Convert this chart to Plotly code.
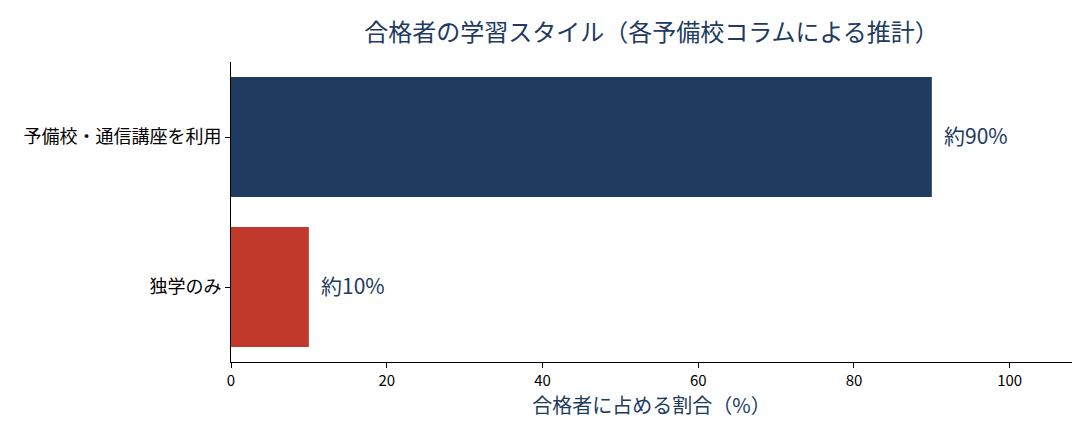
import plotly.graph_objects as go

# data
categories = ["独学のみ", "予備校・通信講座を利用"]
shares = [10, 90]
bar_labels = ["約10%", "約90%"]
bar_colors = ["#c0392b", "#203a60"]

NAVY = "#203a60"
FONT = "Noto Sans CJK JP"

fig = go.Figure(go.Bar(
    y=categories,
    x=shares,
    orientation="h",
    marker=dict(color=bar_colors, line=dict(width=0)),
    width=0.8,
))

# value labels just right of each bar
for cat, val, lab in zip(categories, shares, bar_labels):
    fig.add_annotation(x=val, y=cat, text=lab, showarrow=False,
                       xanchor="left", xshift=10, yshift=2,
                       font=dict(size=21, color=NAVY, family=FONT))

fig.update_layout(
    width=1092, height=442,
    margin=dict(l=223, r=28, t=54, b=88),
    plot_bgcolor="white",
    paper_bgcolor="white",
    font=dict(family=FONT, size=15, color="black"),
    title=dict(text="合格者の学習スタイル（各予備校コラムによる推計）",
               x=0.5, xanchor="center", xref="paper", y=0.944, yanchor="middle",
               font=dict(size=24, color=NAVY, family=FONT)),
    showlegend=False,
)
fig.update_xaxes(
    range=[0, 108], dtick=20, showgrid=False, zeroline=False,
    showline=True, linecolor="black", linewidth=1,
    ticks="outside", ticklen=5, tickcolor="black",
    tickfont=dict(size=15),
    title=dict(text="合格者に占める割合（%）", font=dict(size=20, color=NAVY), standoff=6),
)
fig.update_yaxes(
    range=[-0.5, 1.5], showgrid=False, zeroline=False,
    showline=True, linecolor="black", linewidth=1,
    ticks="outside", ticklen=5, tickcolor="black",
    tickfont=dict(size=18),
)

fig.write_html("out.html")
